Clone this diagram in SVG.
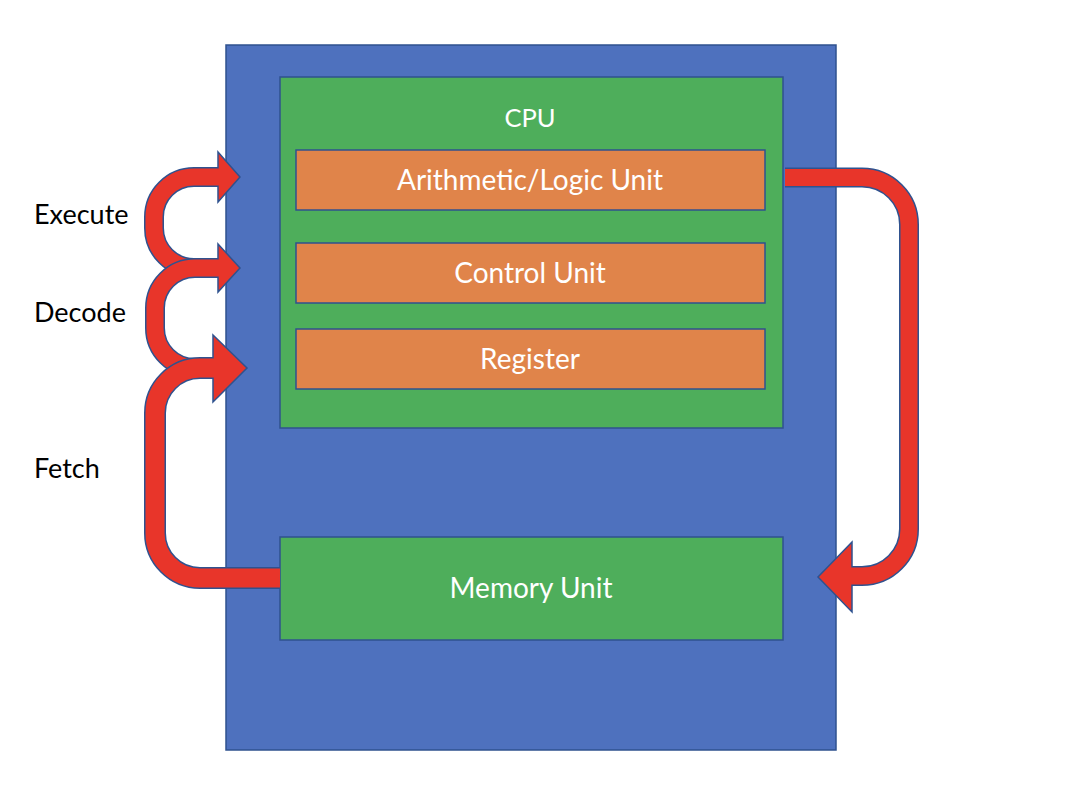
<svg xmlns="http://www.w3.org/2000/svg" width="1086" height="812" viewBox="0 0 1086 812">
<style>
.box{stroke:#2F528F;stroke-width:1.5}
.blue{fill:#4E71BE}
.green{fill:#4EAE5B}
.orange{fill:#E0844A}
.wt{font-family:Lato,"Liberation Sans",sans-serif;font-size:28px;fill:#FFFFFF;text-anchor:middle}
.bt{font-family:Lato,"Liberation Sans",sans-serif;font-size:27px;fill:#000000}
.ol{fill:none;stroke:#2F528F}
.rd{fill:none;stroke:#E8352A}
.hd{fill:#E8352A;stroke:#2F528F;stroke-width:1.5;stroke-linejoin:miter}
</style>
<rect width="1086" height="812" fill="#FFFFFF"/>
<g id="computer"><rect class="box blue" x="226" y="45" width="610" height="705"/></g>
<g id="cpu"><rect class="box green" x="280" y="77" width="503" height="351"/><text class="wt" x="530" y="127" style="font-size:25.5px">CPU</text></g>
<g id="alu"><rect class="box orange" x="296" y="150" width="469" height="60"/><text class="wt" x="530" y="190">Arithmetic/Logic Unit</text></g>
<g id="control"><rect class="box orange" x="296" y="243" width="469" height="60"/><text class="wt" x="530" y="283">Control Unit</text></g>
<g id="register"><rect class="box orange" x="296" y="329" width="469" height="60"/><text class="wt" x="530" y="369">Register</text></g>
<g id="memory"><rect class="box green" x="280" y="537" width="503" height="103"/><text class="wt" x="531" y="598">Memory Unit</text></g>
<g id="labels">
<text class="bt" x="34" y="224">Execute</text>
<text class="bt" x="34" y="322">Decode</text>
<text class="bt" x="34" y="478">Fetch</text>
</g>
<g id="connectors">
<g id="execute-arrow">
<path class="ol" stroke-width="20" d="M 200 268 H 194 A 40 40 0 0 1 154 228 V 217 A 40 40 0 0 1 194 177 H 219"/>
<polygon class="hd" points="218,152 240,177 218,202"/>
<path class="rd" stroke-width="17" d="M 201 268 H 194 A 40 40 0 0 1 154 228 V 217 A 40 40 0 0 1 194 177 H 220"/>
</g>
<g id="decode-arrow">
<path class="ol" stroke-width="20" d="M 200 368 H 195 A 40 40 0 0 1 155 328 V 308 A 40 40 0 0 1 195 268 H 219"/>
<polygon class="hd" points="218,244 240,268 218,292"/>
<path class="rd" stroke-width="17" d="M 201 368 H 195 A 40 40 0 0 1 155 328 V 308 A 40 40 0 0 1 195 268 H 220"/>
</g>
<g id="fetch-arrow">
<path class="ol" stroke-width="22" d="M 280 578 H 200 A 45 45 0 0 1 155 533 V 413 A 45 45 0 0 1 200 368 H 214"/>
<polygon class="hd" points="213,335 247,368 213,402"/>
<path class="rd" stroke-width="19" d="M 280 578 H 200 A 45 45 0 0 1 155 533 V 413 A 45 45 0 0 1 200 368 H 215"/>
</g>
<g id="writeback-arrow">
<path class="ol" stroke-width="20" d="M 785 177.5 H 862 A 47 47 0 0 1 909 224.5 V 529 A 47 47 0 0 1 862 576 H 852"/>
<polygon class="hd" points="852,542 818,577 852,612"/>
<path class="rd" stroke-width="17" d="M 785 177.5 H 862 A 47 47 0 0 1 909 224.5 V 529 A 47 47 0 0 1 862 576 H 851"/>
</g>
</g>
</svg>
